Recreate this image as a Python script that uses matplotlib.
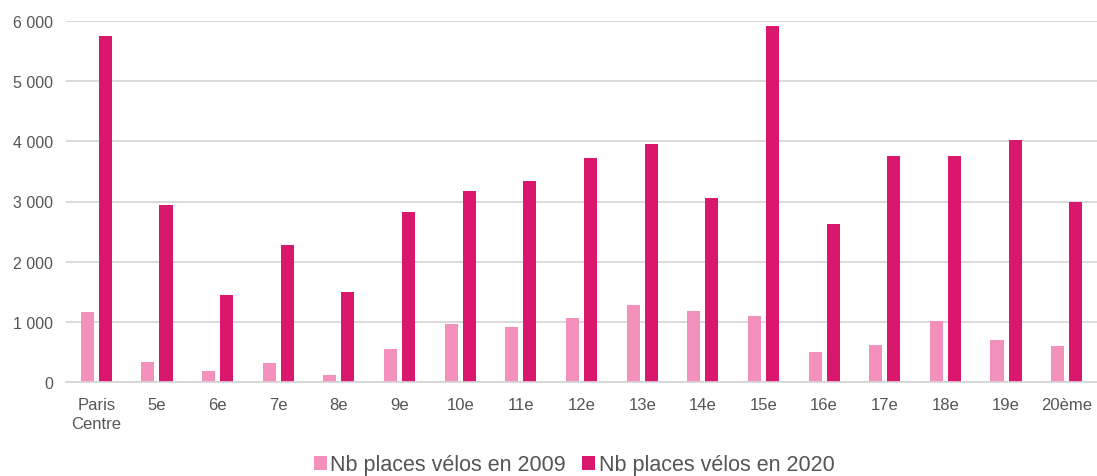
import matplotlib
matplotlib.use("Agg")
import matplotlib.pyplot as plt
from matplotlib.patches import Patch
import numpy as np

plt.rcParams['font.family'] = ['Liberation Sans', 'DejaVu Sans']

categories = ["Paris\nCentre", "5e", "6e", "7e", "8e", "9e", "10e", "11e", "12e",
              "13e", "14e", "15e", "16e", "17e", "18e", "19e", "20ème"]
places_2009 = [1168, 325, 178, 322, 121, 553, 958, 919, 1058,
               1285, 1180, 1092, 493, 615, 1013, 703, 593]
places_2020 = [5752, 2940, 1440, 2275, 1495, 2830, 3178, 3344, 3721,
               3959, 3056, 5914, 2625, 3750, 3750, 4020, 2995]
series_labels = ["Nb places vélos en 2009", "Nb places vélos en 2020"]
yticks = [0, 1000, 2000, 3000, 4000, 5000, 6000]
ytick_labels = ["0", "1 000", "2 000", "3 000", "4 000", "5 000", "6 000"]

c_light = "#F391BC"
c_dark = "#D9176C"
text_c = "#555555"
grid_c = "#D4D4D4"

fig = plt.figure(figsize=(10.97, 4.77), dpi=100)
ax = fig.add_axes([66/1097, 1 - 383/477, 1031/1097, 361/477])

x = np.arange(len(categories))
w = 0.215
off = 0.149
ax.bar(x - off, places_2009, width=w, color=c_light, zorder=3)
ax.bar(x + off, places_2020, width=w, color=c_dark, zorder=3)

ax.set_xlim(-0.5, len(categories) - 0.5)
ax.set_ylim(0, 6000)
ax.set_yticks(yticks)
ax.set_yticklabels(ytick_labels)
ax.set_xticks(x)
ax.set_xticklabels(categories, linespacing=1.35)

ax.yaxis.grid(True, color=grid_c, linewidth=1.2, zorder=0)
ax.set_axisbelow(True)
for s in ["top", "right", "left"]:
    ax.spines[s].set_visible(False)
ax.spines["bottom"].set_color(grid_c)
ax.spines["bottom"].set_linewidth(1.2)
ax.spines["bottom"].set_zorder(4)

ax.tick_params(axis="y", length=0, pad=9.5, labelsize=11.5, labelcolor=text_c)
ax.tick_params(axis="x", length=0, pad=11, labelsize=12, labelcolor=text_c)

handles = [Patch(facecolor=c_light, edgecolor="none"),
           Patch(facecolor=c_dark, edgecolor="none")]
fig.legend(handles, series_labels, loc="center", ncol=2, frameon=False,
           bbox_to_anchor=(574/1097, 1 - 466/477), fontsize=15.5,
           handlelength=0.62, handleheight=0.62, handletextpad=0.15,
           columnspacing=0.75, labelcolor=text_c, borderpad=0, borderaxespad=0)

fig.savefig("out.png", dpi=100)
